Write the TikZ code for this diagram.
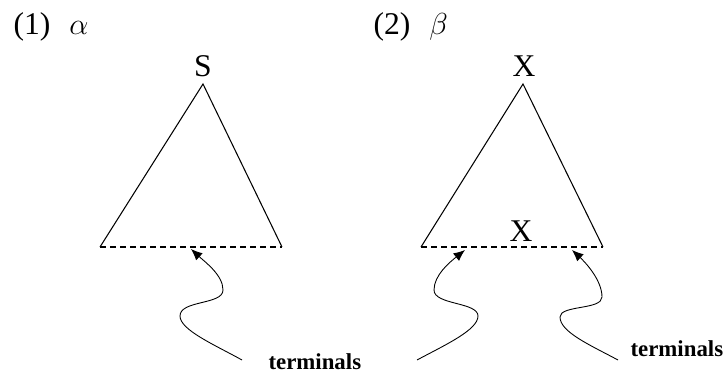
\documentclass[tikz,border=0pt]{standalone}
\usepackage{fontspec}
\setmainfont{Liberation Serif}
\usepackage{tikz}
\usetikzlibrary{arrows.meta}

\begin{document}
\begin{tikzpicture}[x=0.02cm, y=-0.02cm, line width=0.6pt,
	base/.style={dash pattern=on 3.4pt off 2.3pt},
	wiggle/.style={-{Latex[length=6.5pt, width=5.5pt]}, line width=0.5pt},
	lbl/.style={font=\fontsize{18}{20}\selectfont, inner sep=0pt},
	term/.style={font=\fontsize{13}{15}\selectfont\bfseries, inner sep=0pt}]
	\useasboundingbox (0,0) rectangle (726,377);
	% (1) alpha
	\node[lbl, anchor=base west] (nameA) at (13,35) {(1)\hspace{0.6em}$\alpha$};
	\coordinate (A) at (203,84);
	\coordinate (AL) at (100,247);
	\coordinate (AR) at (282,247);
	\node[lbl, anchor=base] (topA) at (203,77) {S};
	\draw (AL) -- (A) -- (AR);
	\draw[base] (AL) -- (AR);
	\node[term, anchor=base west] (termA) at (268,370) {terminals};
	\coordinate (tipA) at (191,249);
	\coordinate (tailA) at (242,360);
	\draw[wiggle] (tailA) .. controls (215,345) and (180,330) .. (180,316)
		.. controls (180,300) and (223,305) .. (223,290)
		.. controls (223,275) and (205,262) .. (tipA);
	% (2) beta
	\node[lbl, anchor=base west] (nameB) at (373,35) {(2)\hspace{0.6em}$\beta$};
	\coordinate (B) at (523,84);
	\coordinate (BL) at (421,247);
	\coordinate (BR) at (603,247);
	\node[lbl, anchor=base] (topB) at (524,77) {X};
	\node[lbl, anchor=base] (footB) at (521,242) {X};
	\draw (BL) -- (B) -- (BR);
	\draw[base] (BL) -- (BR);
	\node[term, anchor=base west] (termB) at (630,357) {terminals};
	\coordinate (tipB) at (465,250);
	\coordinate (tailB) at (417,360);
	\draw[wiggle] (tailB) .. controls (445,345) and (478,330) .. (478,316)
		.. controls (478,302) and (434,305) .. (434,290)
		.. controls (434,275) and (450,262) .. (tipB);
	\coordinate (tipC) at (572,250);
	\coordinate (tailC) at (618,360);
	\draw[wiggle] (tailC) .. controls (590,345) and (560,332) .. (560,317)
		.. controls (560,305) and (602,310) .. (602,297)
		.. controls (602,280) and (585,262) .. (tipC);
\end{tikzpicture}
\end{document}
